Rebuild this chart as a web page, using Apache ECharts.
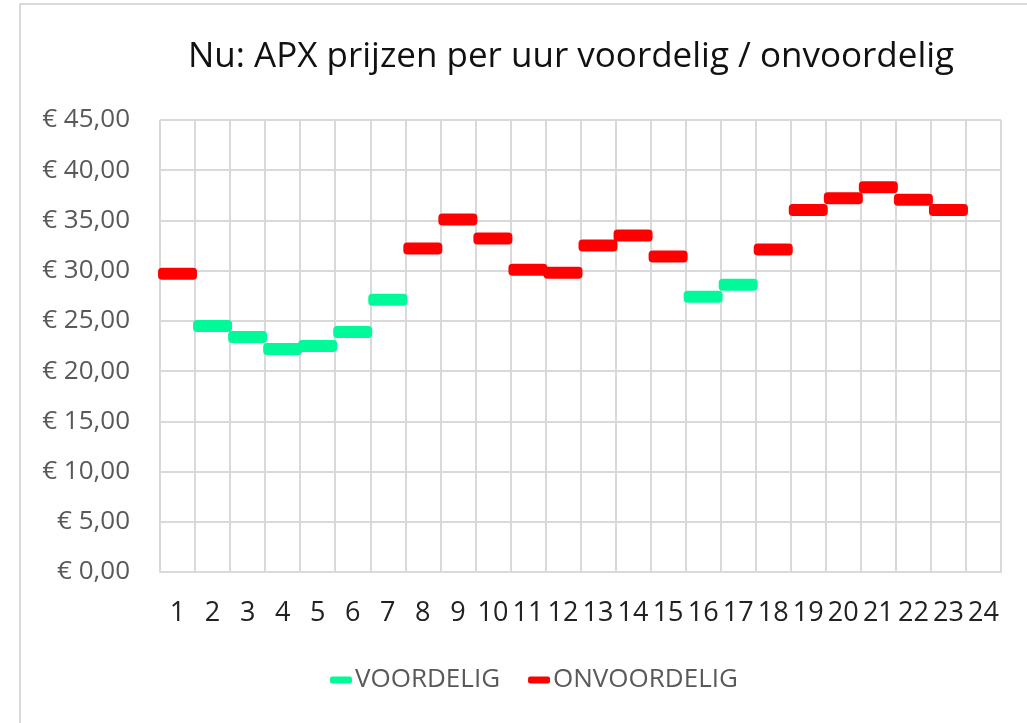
<!DOCTYPE html>
<html>
<head>
<meta charset="utf-8">
<script src="https://cdn.jsdelivr.net/npm/echarts@6/dist/echarts.min.js"></script>
<style>
  html, body { margin: 0; padding: 0; background: #fff; }
  #main { width: 1027px; height: 723px; }
</style>
</head>
<body>
<div id="main"></div>
<script>
// uren 1..24
const uren = ["1","2","3","4","5","6","7","8","9","10","11","12","13","14","15","16","17","18","19","20","21","22","23","24"];
// APX prijs per uur (afgelezen), null = niet in deze reeks
const voordelig = [null, 24.5, 23.4, 22.2, 22.5, 23.9, 27.1, null, null, null, null, null, null, null, null, 27.4, 28.6, null, null, null, null, null, null, null];
const onvoordelig = [29.7, null, null, null, null, null, null, 32.2, 35.1, 33.2, 30.1, 29.8, 32.5, 33.5, 31.4, null, null, 32.1, 36.05, 37.2, 38.3, 37.05, 36.05, null];
const yTicks = { min: 0, max: 45, interval: 5 };

const myChart = echarts.init(document.getElementById("main"));

const euro = (v) => "€ " + v.toFixed(2).replace(".", ",");
// streepje met licht afgeronde hoeken
const streep = "path://M4,0H35Q39,0 39,4V8Q39,12 35,12H4Q0,12 0,8V4Q0,0 4,0Z";

const option = {
  backgroundColor: "#fff",
  animation: false,
  textStyle: { fontFamily: "Open Sans" },
  graphic: [
    {
      type: "rect",
      shape: { x: 20, y: 4, width: 1100, height: 800 },
      style: { fill: "none", stroke: "#d9d9d9", lineWidth: 2 },
      silent: true,
    },
  ],
  title: {
    text: "Nu: APX prijzen per uur voordelig / onvoordelig",
    left: 566,
    textAlign: "center",
    top: 35,
    textStyle: { fontSize: 35, fontWeight: "normal", color: "#111", fontFamily: "Open Sans" },
  },
  grid: { left: 160, right: 26, top: 120, bottom: 151, containLabel: false },
  legend: {
    left: 325,
    top: 662,
    icon: streep,
    itemWidth: 22,
    itemHeight: 10,
    itemGap: 28,
    textStyle: { fontSize: 26, color: "#595959", padding: [0, 0, 0, -2] },
    data: ["VOORDELIG", "ONVOORDELIG"],
  },
  xAxis: {
    type: "category",
    data: uren,
    boundaryGap: true,
    axisLine: { show: true, lineStyle: { color: "#d9d9d9", width: 2 } },
    axisTick: { show: false },
    axisLabel: { interval: 0, fontSize: 27, color: "#222", margin: 28 },
    splitLine: { show: true, interval: 0, lineStyle: { color: "#d9d9d9", width: 2 } },
  },
  yAxis: {
    type: "value",
    min: yTicks.min,
    max: yTicks.max,
    interval: yTicks.interval,
    axisLine: { show: false },
    axisTick: { show: false },
    axisLabel: { fontSize: 26, color: "#595959", margin: 30, formatter: euro },
    splitLine: { show: true, lineStyle: { color: "#d9d9d9", width: 2 } },
  },
  series: [
    {
      name: "VOORDELIG",
      type: "scatter",
      data: voordelig,
      symbol: streep,
      symbolSize: [39, 12],
      itemStyle: { color: "#00fa9a", opacity: 1 },
      emphasis: { disabled: true },
    },
    {
      name: "ONVOORDELIG",
      type: "scatter",
      data: onvoordelig,
      symbol: streep,
      symbolSize: [39, 12],
      itemStyle: { color: "#ff0000", opacity: 1 },
      emphasis: { disabled: true },
    },
  ],
};

myChart.setOption(option);
</script>
</body>
</html>
